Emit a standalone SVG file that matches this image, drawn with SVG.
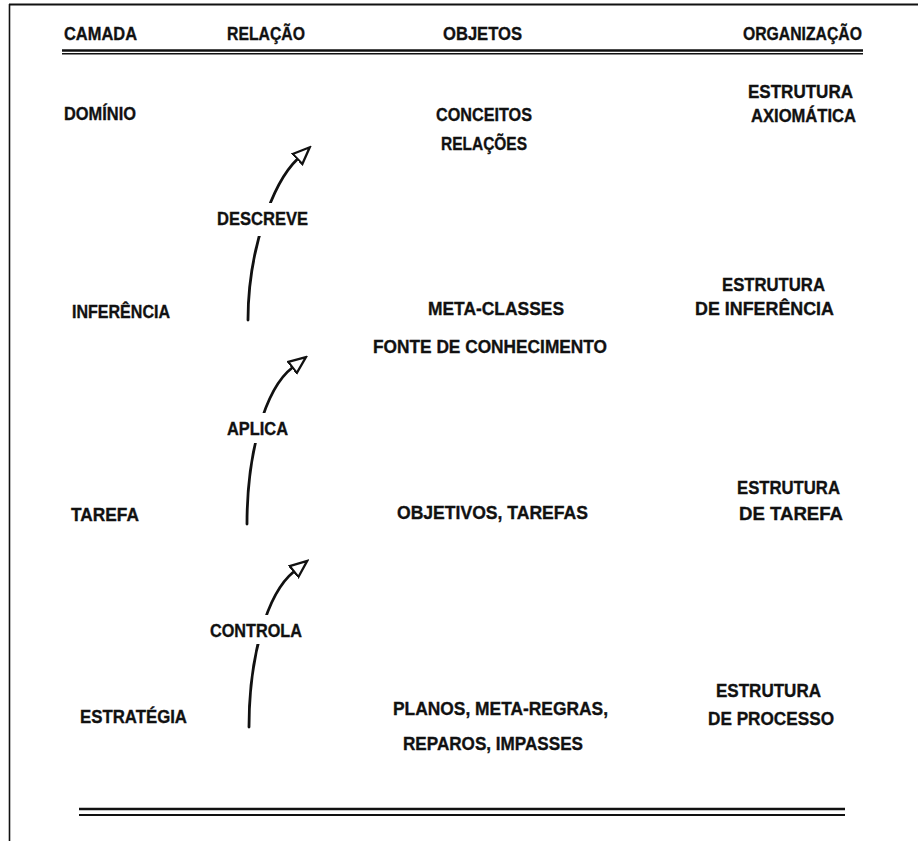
<svg xmlns="http://www.w3.org/2000/svg" width="918" height="841" viewBox="0 0 918 841">
  <style>
    .t { font-family: "Liberation Sans", Arial, sans-serif; font-weight: bold; font-size: 19px; fill: #111; stroke: #111; stroke-width: 0.35; }
    .rule { stroke: #111; fill: none; }
    .arc { stroke: #111; stroke-width: 2.8; fill: none; stroke-linecap: round; marker-end: url(#openHead); }
    .knock { fill: #fff; }
  </style>
  <defs>
    <marker id="openHead" viewBox="0 0 20 18" refX="1" refY="9" markerWidth="20" markerHeight="18" markerUnits="userSpaceOnUse" orient="auto">
      <path d="M1,2 L18,9 L1,16 Z" fill="#fff" stroke="#111" stroke-width="2.3" stroke-linejoin="miter"/>
    </marker>
  </defs>

  <rect width="918" height="841" fill="#fff"/>

  <!-- page frame: top and left edges -->
  <g id="frame">
    <line class="rule" x1="9" y1="4.5" x2="918" y2="4.5" stroke-width="2"/>
    <line class="rule" x1="9.5" y1="4" x2="9.5" y2="841" stroke-width="1.6"/>
  </g>

  <!-- column headings -->
  <g id="header">
    <text class="t" x="64" y="40" textLength="73" lengthAdjust="spacingAndGlyphs">CAMADA</text>
    <text class="t" x="227" y="40" textLength="78" lengthAdjust="spacingAndGlyphs">RELAÇÃO</text>
    <text class="t" x="443" y="40" textLength="79" lengthAdjust="spacingAndGlyphs">OBJETOS</text>
    <text class="t" x="743" y="40" textLength="119" lengthAdjust="spacingAndGlyphs">ORGANIZAÇÃO</text>
    <line class="rule" x1="62" y1="50.5" x2="863" y2="50.5" stroke-width="2.4"/>
    <line class="rule" x1="62" y1="53.8" x2="863" y2="53.8" stroke-width="1.4"/>
  </g>

  <!-- layer: domain -->
  <g id="layer-dominio">
    <text class="t" x="64" y="120" textLength="72" lengthAdjust="spacingAndGlyphs">DOMÍNIO</text>
    <text class="t" x="436" y="121" textLength="96" lengthAdjust="spacingAndGlyphs">CONCEITOS</text>
    <text class="t" x="441" y="149.5" textLength="86" lengthAdjust="spacingAndGlyphs">RELAÇÕES</text>
    <text class="t" x="748" y="98" textLength="105" lengthAdjust="spacingAndGlyphs">ESTRUTURA</text>
    <text class="t" x="751" y="122" textLength="105" lengthAdjust="spacingAndGlyphs">AXIOMÁTICA</text>
  </g>

  <!-- layer: inference -->
  <g id="layer-inferencia">
    <text class="t" x="72" y="318" textLength="98" lengthAdjust="spacingAndGlyphs">INFERÊNCIA</text>
    <text class="t" x="428" y="315" textLength="136" lengthAdjust="spacingAndGlyphs">META-CLASSES</text>
    <text class="t" x="373" y="353" textLength="234" lengthAdjust="spacingAndGlyphs">FONTE DE CONHECIMENTO</text>
    <text class="t" x="722" y="291" textLength="103" lengthAdjust="spacingAndGlyphs">ESTRUTURA</text>
    <text class="t" x="695" y="315" textLength="139" lengthAdjust="spacingAndGlyphs">DE INFERÊNCIA</text>
  </g>

  <!-- layer: task -->
  <g id="layer-tarefa">
    <text class="t" x="71" y="521" textLength="68" lengthAdjust="spacingAndGlyphs">TAREFA</text>
    <text class="t" x="397" y="519" textLength="191" lengthAdjust="spacingAndGlyphs">OBJETIVOS, TAREFAS</text>
    <text class="t" x="737" y="494" textLength="103" lengthAdjust="spacingAndGlyphs">ESTRUTURA</text>
    <text class="t" x="739" y="520" textLength="104" lengthAdjust="spacingAndGlyphs">DE TAREFA</text>
  </g>

  <!-- layer: strategy -->
  <g id="layer-estrategia">
    <text class="t" x="80" y="723" textLength="107" lengthAdjust="spacingAndGlyphs">ESTRATÉGIA</text>
    <text class="t" x="393" y="715" textLength="215" lengthAdjust="spacingAndGlyphs">PLANOS, META-REGRAS,</text>
    <text class="t" x="403" y="750" textLength="180" lengthAdjust="spacingAndGlyphs">REPAROS, IMPASSES</text>
    <text class="t" x="716" y="697" textLength="105" lengthAdjust="spacingAndGlyphs">ESTRUTURA</text>
    <text class="t" x="708" y="725" textLength="126" lengthAdjust="spacingAndGlyphs">DE PROCESSO</text>
  </g>

  <!-- curved relation arrows between layers -->
  <g id="connectors">
    <path id="arc-descreve" class="arc" d="M248,320 C248,250 272.5,183 297.5,159"/>
    <path id="arc-aplica" class="arc" d="M247,524 C247,454 264.5,389 292.5,367.5"/>
    <path id="arc-controla" class="arc" d="M249,727 C249,657 266.7,593.5 294,571.5"/>
  </g>

  <!-- relation labels, each clearing a gap in its arrow -->
  <g id="label-descreve">
    <rect class="knock" x="214" y="203" width="96" height="33"/>
    <text class="t" x="217" y="225" textLength="91" lengthAdjust="spacingAndGlyphs">DESCREVE</text>
  </g>
  <g id="label-aplica">
    <rect class="knock" x="224" y="413" width="68" height="30"/>
    <text class="t" x="227" y="435" textLength="61" lengthAdjust="spacingAndGlyphs">APLICA</text>
  </g>
  <g id="label-controla">
    <rect class="knock" x="207" y="615" width="98" height="29"/>
    <text class="t" x="210" y="637" textLength="92" lengthAdjust="spacingAndGlyphs">CONTROLA</text>
  </g>

  <!-- closing double rule -->
  <g id="footer">
    <line class="rule" x1="79" y1="809" x2="845" y2="809" stroke-width="2.4"/>
    <line class="rule" x1="79" y1="815" x2="845" y2="815" stroke-width="2.2"/>
  </g>
</svg>
